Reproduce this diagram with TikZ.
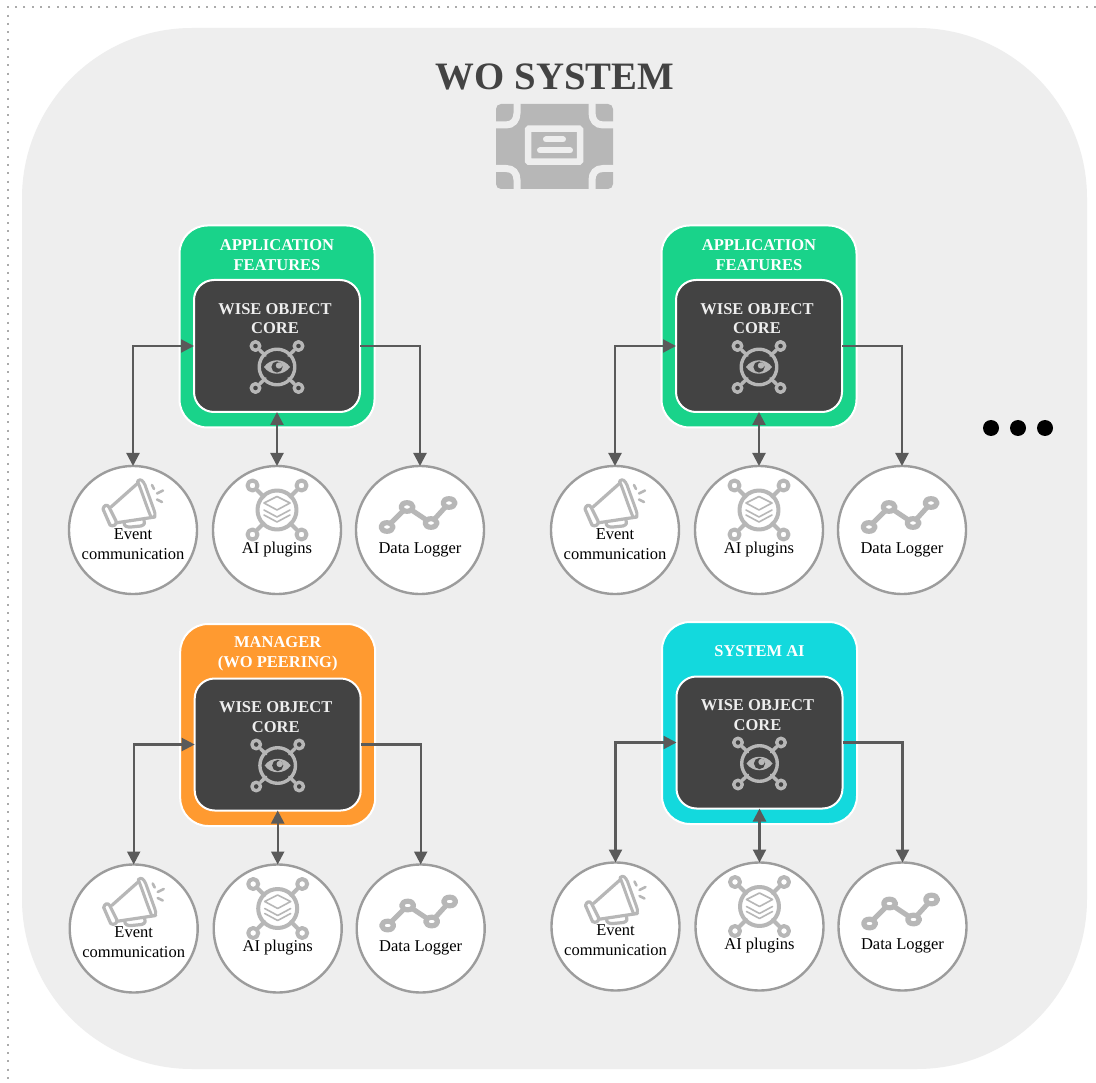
\documentclass[tikz,border=0pt]{standalone}
\usepackage{fontspec}
\setmainfont{Liberation Serif}
\usetikzlibrary{arrows.meta}
\definecolor{panelgray}{HTML}{EEEEEE}
\definecolor{coredark}{HTML}{434343}
\definecolor{icongray}{HTML}{B7B7B7}
\definecolor{linkgray}{HTML}{5A5A5A}
\definecolor{ringgray}{HTML}{9C9C9C}
\definecolor{dotgray}{HTML}{ABABAB}
\definecolor{appgreen}{HTML}{19D38A}
\definecolor{mgrorange}{HTML}{FF9A30}
\definecolor{aicyan}{HTML}{13D9DD}
\tikzset{
  x=1pt,y=-1pt,
  outerbox/.style={draw=white,line width=2pt,rounded corners=28pt,minimum width=195pt,minimum height=202pt,inner sep=0pt,outer sep=0pt},
  corebox/.style={draw=white,line width=2pt,fill=coredark,rounded corners=20pt,minimum width=166pt,minimum height=132pt,inner sep=0pt,outer sep=0pt},
  satellite/.style={fill=white,draw=ringgray,line width=2.4pt,circle,minimum size=128pt,inner sep=0pt,outer sep=0pt},
  link/.style={draw=linkgray,line width=2.2pt},
  tiptwo/.style={{Triangle[length=13pt,width=13pt]}-{Triangle[length=13pt,width=13pt]}},
  tipone/.style={-{Triangle[length=13pt,width=13pt]}},
  boxtitle/.style={text=white,font=\fontsize{16.5}{20}\selectfont\bfseries,align=center,inner sep=0pt},
  coretitle/.style={text=panelgray,font=\fontsize{16.5}{19.5}\selectfont\bfseries,align=center,inner sep=0pt},
  satlabel/.style={text=black,font=\fontsize{16.5}{20}\selectfont,align=center,inner sep=0pt},
  ic/.style={draw=icongray,line cap=round,line join=round},
}
\newcommand{\hubicon}[6]{%
  \foreach \sx/\sy in {-1/-1,1/-1,-1/1,1/1}{
    \draw[ic,line width=#6pt] (#1+\sx*#4*0.55,#2+\sy*#5*0.55) -- (#1+\sx*#4*0.8,#2+\sy*#5*0.8);
    \draw[ic,line width=#6pt] (#1+\sx*#4,#2+\sy*#5) circle[radius=#6*1.25];
  }
  \draw[ic,line width=#6pt] (#1,#2) circle[radius=#3];
}
\newcommand{\wogroup}[3]{%
  \node[outerbox,fill=#2] (#1box) at (277,326.5) {};
  \node[boxtitle] (#1title) at (277,255) {#3};
  \node[corebox] (#1core) at (277,346) {};
  \node[coretitle] (#1coretext) at (275,318.5) {WISE OBJECT\\CORE};
  \hubicon{277}{367}{17.8}{21.5}{21}{3.4}
  \fill[icongray] (264,367) .. controls (270,358) and (284,358) .. (290,367) .. controls (284,376) and (270,376) .. (264,367) -- cycle;
  \fill[coredark] (277,367) circle[radius=5.6];
  \fill[icongray] (279,365.5) circle[radius=3.2];
  \node[satellite] (#1evt) at (133,530) {};
  \node[satellite] (#1ai) at (277,530) {};
  \node[satellite] (#1log) at (420,530) {};
  \node[satlabel] (#1evttext) at (133,544) {Event\\communication};
  \node[satlabel] (#1aitext) at (277,549.5) {AI plugins};
  \node[satlabel] (#1logtext) at (420,549.5) {Data Logger};
  % megaphone
  \draw[ic,line width=3.2pt] (111,507) -- (138,483) (155,517) -- (115,523);
  \draw[ic,line width=3pt,fill=white] (137.5,481) .. controls (141,478) and (143,481) .. (145,485) -- (154,510) .. controls (156,515) and (155,518) .. (151,517) .. controls (146,505) and (142,492) .. (137.5,481) -- cycle;
  \draw[ic,line width=3.2pt,fill=white] (103,509) .. controls (104,505) and (107,504) .. (109,507) -- (116,521) .. controls (117,525) and (113,527) .. (110,525) -- cycle;
  \draw[ic,line width=3.2pt] (124,522) .. controls (124,527) and (127,527) .. (131,527) -- (141,526) .. controls (145,525) and (145,522) .. (144,520);
  \draw[ic,line width=2.6pt] (152,485) -- (154,489) (157,493.5) -- (163,490.5) (157,499.5) -- (162,502);
  % hub with layers
  \hubicon{277}{510}{19.5}{24.5}{24.5}{4}
  \foreach \ly in {516,511}{\draw[ic,line width=1.6pt] (264,\ly-1) -- (277,\ly+6) -- (290,\ly-1);}
  \draw[ic,line width=1.6pt] (264,503) -- (277,496.5) -- (290,503) -- (277,510) -- cycle;
  % graph
  \draw[ic,line width=5pt] (387,527) -- (407,507) -- (431,523) -- (449,503);
  \foreach \gx/\gy in {387/527,407/507,431/523,449/503}{
    \draw[ic,line width=5.2pt,fill=white] (\gx,\gy) ellipse[x radius=6,y radius=4.3];
  }
  % connectors
  \draw[link,tiptwo] (#1evt.north) |- (#1core.west);
  \draw[link,tiptwo] (#1core.south) -- (#1ai.north);
  \draw[link,tipone] (#1core.east) -| (#1log.north);
}
\begin{document}
\begin{tikzpicture}
  \useasboundingbox (0,0) rectangle (1096,1083);
  \fill[white] (0,0) rectangle (1096,1083);
  \coordinate (framecorner) at (8,7);
  \coordinate (frametop) at (1096,7);
  \coordinate (framebottom) at (8,1083);
  \draw[dotgray,line width=2pt,dash pattern=on 2pt off 6.3pt] (frametop) -- (framecorner) -- (framebottom);
  \node[fill=panelgray,rounded corners=170pt,minimum width=1065pt,minimum height=1041pt,inner sep=0pt,outer sep=0pt] (system) at (554.5,548.5) {};
  \node[text=coredark,font=\fontsize{38.8}{44}\selectfont\bfseries,inner sep=0pt] (systitle) at (555,77) {WO SYSTEM};
  % chip icon
  \fill[icongray,rounded corners=5pt] (496,104) rectangle (613,189);
  \draw[panelgray,line width=7pt] (517,100) -- (517,113) .. controls (517,120) and (513,125) .. (506,125) -- (490,125);
  \draw[panelgray,line width=7pt] (592,100) -- (592,113) .. controls (592,120) and (596,125) .. (603,125) -- (619,125);
  \draw[panelgray,line width=7pt] (517,193) -- (517,180) .. controls (517,173) and (513,168.5) .. (506,168.5) -- (490,168.5);
  \draw[panelgray,line width=7pt] (592,193) -- (592,180) .. controls (592,173) and (596,168.5) .. (603,168.5) -- (619,168.5);
  \draw[panelgray,line width=6.5pt,rounded corners=1pt] (528,128.7) rectangle (580,161.7);
  \draw[panelgray,line width=6pt,line cap=round] (546,139.5) -- (563,139.5) (540,150.5) -- (570,150.5);
  \begin{scope}
    \wogroup{a}{appgreen}{APPLICATION\\FEATURES}
  \end{scope}
  \begin{scope}[shift={(482,0)}]
    \wogroup{b}{appgreen}{APPLICATION\\FEATURES}
  \end{scope}
  \begin{scope}[shift={(0.7,398.5)}]
    \wogroup{c}{mgrorange}{MANAGER\\(WO PEERING)}
  \end{scope}
  \begin{scope}[shift={(482.5,396.5)}]
    \wogroup{d}{aicyan}{SYSTEM AI}
  \end{scope}
  \fill[black] (991,428) circle[radius=8] (1018,428) circle[radius=8] (1045,428) circle[radius=8];
\end{tikzpicture}
\end{document}
